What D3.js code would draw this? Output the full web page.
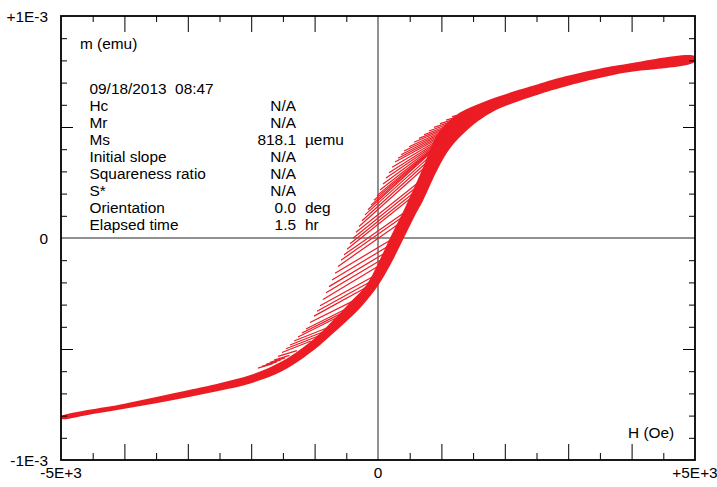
<!DOCTYPE html>
<html>
<head>
<meta charset="utf-8">
<script src="https://cdn.jsdelivr.net/npm/d3@7"></script>
<style>
  body { margin: 0; background: #fff; }
  text { font-family: "Liberation Sans", Arial, sans-serif; font-size: 15.4px; fill: #000; }
</style>
</head>
<body>
<div id="chart"></div>
<script>
// ==============================
// m(H) loop, first order reversal curves
// ==============================
var svgWidth = 717;
var svgHeight = 487;

var plot = { left: 61, right: 695, top: 16, bottom: 460 };

// ticks (H in Oe, m in µemu)
var xLabelValues = [-5000, 0, 5000];
var xLabelText = ["-5E+3", "0", "+5E+3"];
var xMajorTicks = [-4000, -3000, -2000, -1000, 1000, 2000, 3000, 4000];
var xMinorTicks = [-4500, -3500, -2500, -1500, -500, 500, 1500, 2500, 3500, 4500];
var yLabelValues = [-1000, 0, 1000];
var yLabelText = ["-1E-3", "0", "+1E-3"];
var yMajorTicks = [-500, 500];
var yMinorTicks = [-900, -800, -700, -600, -400, -300, -200, -100, 100, 200, 300, 400, 600, 700, 800, 900];

// info block
var infoDate = "09/18/2013  08:47";
var infoLabels = ["Hc", "Mr", "Ms", "Initial slope", "Squareness ratio", "S*", "Orientation", "Elapsed time"];
var infoValues = ["N/A", "N/A", "818.1", "N/A", "N/A", "N/A", "0.0", "1.5"];
var infoUnits = ["", "", "µemu", "", "", "", "deg", "hr"];

// lower / right edge of the dense band (major ascending branch)
var ascH = [-5000, -4500, -4000, -3500, -3000, -2500, -2000, -1500, -1000, -750, -500, -250, 0,
  200, 400, 600, 710, 930, 1140, 1400, 1650, 1920, 2400, 2870, 3820, 5000];
var ascM = [-815, -793, -769, -744, -717, -688, -654, -598, -502, -440, -376, -305, -215,
  -118, -5, 110, 168, 303, 405, 484, 540, 584, 634, 676, 741, 794];

// upper / left edge of the dense band
var topH = [-5000, -4000, -3000, -2500, -2000, -1500, -995, -678, -442, -189, 0, 189, 394, 552,
  694, 820, 931, 1088, 1293, 1656, 1924, 2398, 2871, 3817, 5000];
var topM = [-805, -747, -686, -654, -616, -553, -450, -362, -290, -214, -115, 0, 117, 216,
  306, 396, 464, 518, 565, 612, 640, 682, 722, 779, 819];

// reversal curves: start at reversal point, run into the band
var revH = [-1893, -1830, -1767, -1704, -1640, -1577, -1514, -1451, -1388, -1325, -1262, -1199,
  -1136, -1073, -1010, -962, -915, -868, -820, -773, -726, -678, -631, -584, -536, -489, -442,
  -394, -347, -300, -252, -205, -158, -110, -63, -16, 32, 79, 126, 174, 221, 268, 316, 363,
  410, 489, 568, 647, 726, 804, 883, 978, 1073, 1167];
var revM = [-586, -578, -569, -560, -550, -533, -516, -499, -482, -464, -446, -428,
  -410, -381, -352, -330, -305, -277, -247, -219, -189, -159, -128, -100, -75, -51, -26,
  -1, 26, 52, 78, 104, 127, 148, 170, 191, 216, 243, 270, 294, 319, 342, 359, 375,
  392, 411, 431, 449, 465, 482, 498, 515, 531, 547];
var endH = [-1661, -1596, -1532, -1465, -1396, -1279, -1058, -921, -860, -789, -617, -555,
  -500, -374, -188, -99, -54, 35, 93, 142, 191, 245, 364, 415, 456, 563, 598,
  634, 667, 776, 806, 834, 844, 868, 891, 915, 939, 962, 986, 1010, 1033, 1057, 1081, 1104,
  1128, 1159, 1199, 1238, 1270, 1309, 1357, 1404, 1451, 1514];
var endM = [-566, -558, -549, -540, -529, -507, -464, -439, -422, -403, -354, -336,
  -319, -281, -223, -194, -170, -122, -91, -62, -32, -1, 71, 100, 123, 190, 212,
  235, 257, 328, 350, 371, 387, 396, 405, 412, 419, 428, 437, 446, 455, 464, 473, 482,
  489, 498, 507, 516, 525, 534, 543, 552, 561, 570];

var red = "#ec1c24";

var svg = d3.select("#chart")
  .append("svg")
  .attr("width", svgWidth)
  .attr("height", svgHeight);

var xScale = d3.scaleLinear()
  .domain([-5000, 5000])
  .range([plot.left, plot.right]);

var yScale = d3.scaleLinear()
  .domain([-1000, 1000])
  .range([plot.bottom, plot.top]);

svg.append("clipPath")
  .attr("id", "clip")
  .append("rect")
  .attr("x", plot.left)
  .attr("y", plot.top)
  .attr("width", plot.right - plot.left)
  .attr("height", plot.bottom - plot.top);

// zero lines
svg.append("line")
  .attr("x1", plot.left).attr("x2", plot.right)
  .attr("y1", yScale(0)).attr("y2", yScale(0))
  .attr("stroke", "#222").attr("stroke-width", 1);
svg.append("line")
  .attr("x1", xScale(0)).attr("x2", xScale(0))
  .attr("y1", plot.top).attr("y2", plot.bottom)
  .attr("stroke", "#222").attr("stroke-width", 1);

// curves
var curves = svg.append("g").attr("clip-path", "url(#clip)");

var bandPoints = ascH.map((h, i) => [h, ascM[i]])
  .concat(topH.map((h, i) => [h, topM[i]]).reverse());

var bandLine = d3.line()
  .x(d => xScale(d[0]))
  .y(d => yScale(d[1]))
  .curve(d3.curveCatmullRomClosed.alpha(0.5));

curves.append("path")
  .attr("d", bandLine(bandPoints))
  .attr("fill", red)
  .attr("stroke", "none");

var segLine = d3.line()
  .x(d => xScale(d[0]))
  .y(d => yScale(d[1]));

curves.selectAll(".forc")
  .data(revH)
  .enter()
  .append("path")
  .attr("class", "forc")
  .attr("d", (h, i) => segLine([[h, revM[i]], [endH[i], endM[i]]]))
  .attr("fill", "none")
  .attr("stroke", red)
  .attr("stroke-width", 1.2);

// inward ticks on all four sides
function drawTicks(g) {
  g.select(".domain").remove();
  g.selectAll("line").attr("stroke", "#000");
}

var sides = [
  [d3.axisBottom, `translate(0, ${plot.bottom})`, xScale, xMinorTicks, xMajorTicks, 7, 16],
  [d3.axisTop, `translate(0, ${plot.top})`, xScale, xMinorTicks, xMajorTicks, 6, 16],
  [d3.axisLeft, `translate(${plot.left}, 0)`, yScale, yMinorTicks, yMajorTicks, 6, 12],
  [d3.axisRight, `translate(${plot.right}, 0)`, yScale, yMinorTicks, yMajorTicks, 6, 12]
];

sides.forEach(function(s) {
  svg.append("g")
    .attr("transform", s[1])
    .call(s[0](s[2]).tickValues(s[3]).tickSize(-s[5]).tickFormat(""))
    .call(drawTicks);
  svg.append("g")
    .attr("transform", s[1])
    .call(s[0](s[2]).tickValues(s[4]).tickSize(-s[6]).tickFormat(""))
    .call(drawTicks);
});

// frame
svg.append("rect")
  .attr("x", plot.left)
  .attr("y", plot.top)
  .attr("width", plot.right - plot.left)
  .attr("height", plot.bottom - plot.top)
  .attr("fill", "none")
  .attr("stroke", "#000")
  .attr("stroke-width", 1.8);

// tick labels
svg.selectAll(".xlab")
  .data(xLabelValues)
  .enter()
  .append("text")
  .attr("x", d => xScale(d))
  .attr("y", 478)
  .attr("text-anchor", "middle")
  .text((d, i) => xLabelText[i]);

svg.selectAll(".ylab")
  .data(yLabelValues)
  .enter()
  .append("text")
  .attr("x", 48)
  .attr("y", d => yScale(d) + 5.5)
  .attr("text-anchor", "end")
  .text((d, i) => yLabelText[i]);

// axis titles
svg.append("text").attr("x", 80).attr("y", 49).text("m (emu)");
svg.append("text").attr("x", 628).attr("y", 438).text("H (Oe)");

// info block
svg.append("text")
  .attr("x", 89.5)
  .attr("y", 93.5)
  .style("white-space", "pre")
  .text(infoDate);

infoLabels.forEach(function(label, i) {
  var y = 110.5 + 17 * i;
  svg.append("text").attr("x", 89.5).attr("y", y).text(label);
  svg.append("text").attr("x", 296).attr("y", y).attr("text-anchor", "end").text(infoValues[i]);
  svg.append("text").attr("x", 305).attr("y", y).text(infoUnits[i]);
});
</script>
</body>
</html>
